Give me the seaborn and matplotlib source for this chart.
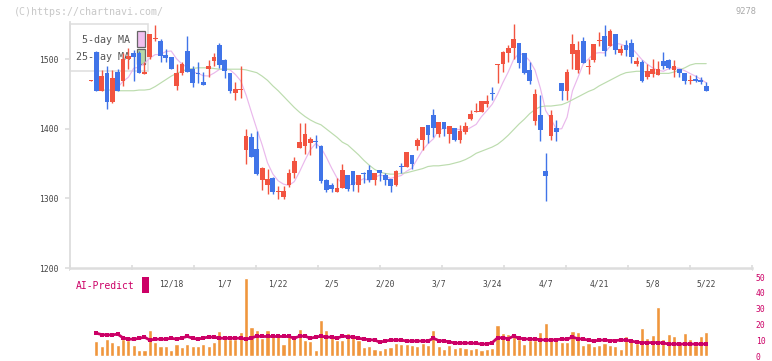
import numpy as np
import pandas as pd
import matplotlib
matplotlib.use("Agg")
import matplotlib.pyplot as plt
import matplotlib.transforms as mtransforms
import seaborn as sns
from matplotlib.patches import Rectangle

nan = np.nan

# daily candles, index 0 = first (partial) day on the chart
opens = [
    1469, 1511, 1455, 1481, 1439, 1482, 1469, 1501, 1509, 1509,
    1479, 1504, 1530, 1527, 1506, 1503, 1462, 1481, 1512, 1486,
    1481, 1468, 1487, 1498, 1521, 1499, 1480, 1452, 1456, 1370,
    1389, 1371, 1326, 1320, 1330, 1310, 1302, 1319, 1337, 1373,
    1376, 1380, 1383, 1375, 1326, 1319, 1310, 1315, 1334, 1339,
    1320, 1337, 1341, 1327, 1341, 1334, 1328, 1320, 1347, 1345,
    1363, 1375, 1384, 1406, 1420, 1393, 1410, 1393, 1402, 1384,
    1396, 1414, 1424, 1425, 1436, 1451, 1492, 1493, 1510, 1516,
    1523, 1509, 1485, 1412, 1420, 1339, 1390, 1402, 1466, 1454,
    1508, 1485, 1527, 1489, 1499, 1526, 1534, 1520, 1537, 1510,
    1521, 1524, 1493, 1497, 1475, 1479, 1477, 1498, 1499, 1485,
    1486, 1481, 1469, 1472, 1470, 1462,
]
highs = [
    1470, 1512, 1485, 1490, 1485, 1486, 1509, 1516, 1514, 1512,
    1497, 1537, 1550, 1530, 1515, 1503, 1494, 1497, 1534, 1490,
    1496, 1482, 1499, 1510, 1524, 1501, 1480, 1468, 1490, 1400,
    1394, 1397, 1346, 1342, 1331, 1318, 1318, 1343, 1359, 1409,
    1409, 1389, 1391, 1377, 1328, 1322, 1329, 1350, 1334, 1339,
    1334, 1338, 1348, 1336, 1341, 1337, 1328, 1341, 1351, 1367,
    1363, 1387, 1403, 1406, 1429, 1410, 1410, 1404, 1402, 1406,
    1410, 1428, 1437, 1440, 1449, 1460, 1493, 1512, 1521, 1551,
    1523, 1510, 1496, 1457, 1449, 1366, 1427, 1413, 1466, 1486,
    1536, 1527, 1533, 1501, 1522, 1539, 1550, 1544, 1537, 1521,
    1528, 1529, 1503, 1499, 1493, 1501, 1498, 1511, 1501, 1499,
    1486, 1481, 1478, 1477, 1475, 1467,
]
lows = [
    1469, 1455, 1454, 1429, 1438, 1455, 1462, 1486, 1469, 1481,
    1479, 1500, 1526, 1497, 1497, 1486, 1456, 1478, 1482, 1461,
    1466, 1463, 1475, 1490, 1488, 1473, 1452, 1441, 1445, 1350,
    1360, 1334, 1312, 1306, 1307, 1299, 1299, 1317, 1330, 1373,
    1364, 1362, 1373, 1323, 1310, 1310, 1310, 1315, 1311, 1311,
    1310, 1323, 1324, 1320, 1325, 1320, 1310, 1318, 1337, 1345,
    1342, 1370, 1370, 1380, 1389, 1389, 1390, 1380, 1383, 1380,
    1393, 1413, 1424, 1425, 1431, 1442, 1466, 1482, 1497, 1500,
    1488, 1479, 1465, 1406, 1382, 1296, 1384, 1383, 1441, 1442,
    1487, 1480, 1495, 1479, 1497, 1519, 1505, 1520, 1508, 1506,
    1505, 1495, 1491, 1467, 1472, 1475, 1477, 1487, 1487, 1475,
    1475, 1465, 1465, 1468, 1465, 1455,
]
closes = [
    1470, 1455, 1476, 1439, 1473, 1455, 1500, 1505, 1504, 1481,
    1482, 1537, 1531, 1505, 1502, 1486, 1481, 1493, 1482, 1466,
    1479, 1463, 1491, 1503, 1492, 1484, 1455, 1458, 1457, 1390,
    1360, 1335, 1344, 1328, 1309, 1311, 1311, 1336, 1354, 1381,
    1393, 1386, 1381, 1325, 1312, 1314, 1315, 1341, 1313, 1320,
    1334, 1335, 1327, 1336, 1336, 1327, 1318, 1339, 1345, 1367,
    1349, 1384, 1403, 1391, 1402, 1410, 1400, 1404, 1384, 1397,
    1404, 1422, 1426, 1440, 1440, 1450, 1493, 1511, 1516, 1529,
    1495, 1481, 1469, 1450, 1399, 1333, 1420, 1396, 1454, 1482,
    1522, 1514, 1495, 1490, 1522, 1528, 1512, 1541, 1514, 1515,
    1513, 1503, 1498, 1469, 1483, 1486, 1486, 1491, 1488, 1490,
    1481, 1469, 1471, 1469, 1468, 1455,
]
ma25 = [
    nan, 1456, 1456, 1456, 1456, 1455, 1455, 1455, 1455, 1456,
    1456, 1457, 1461, 1466, 1471, 1476, 1480, 1483, 1486, 1487,
    1488, 1488, 1488, 1487, 1486, 1486, 1486, 1486, 1486, 1485,
    1483, 1481, 1476, 1470, 1462, 1455, 1447, 1439, 1431, 1424,
    1418, 1413, 1409, 1406, 1400, 1394, 1388, 1381, 1377, 1370,
    1363, 1355, 1348, 1342, 1338, 1336, 1335, 1335, 1336, 1337,
    1339, 1341, 1343, 1346, 1347, 1347, 1348, 1349, 1351, 1353,
    1356, 1360, 1365, 1368, 1371, 1374, 1378, 1384, 1391, 1399,
    1407, 1414, 1422, 1428, 1432, 1433, 1433, 1434, 1435, 1438,
    1442, 1446, 1450, 1454, 1457, 1462, 1466, 1470, 1474, 1478,
    1481, 1482, 1483, 1483, 1482, 1481, 1480, 1480, 1480, 1482,
    1485, 1488, 1492, 1494, 1494, 1494,
]
volume = [
    nan, 9.5, 6.3, 10.7, 8.8, 6.9, 10.7, 10.1, 6.9, 3.8,
    3.8, 16.4, 8.8, 6.3, 6.3, 3.8, 7.6, 5.7, 7.6, 6.3,
    6.3, 7.6, 6.3, 8.8, 15.8, 12.6, 10.7, 10.7, 15.1, 49.8,
    18.3, 16.4, 11.3, 16.4, 14.5, 12.6, 7.6, 13.9, 11.3, 17.0,
    10.1, 9.5, 3.8, 22.7, 16.4, 13.9, 10.1, 10.1, 14.5, 12.6,
    10.1, 5.7, 6.3, 4.4, 4.0, 5.0, 5.7, 8.2, 7.6, 7.6,
    6.9, 6.3, 8.2, 6.9, 16.4, 6.3, 4.4, 6.9, 5.0, 5.7,
    5.0, 4.4, 5.0, 3.8, 4.4, 5.0, 19.5, 14.5, 13.9, 13.9,
    10.7, 7.6, 10.1, 10.1, 15.1, 20.8, 12.0, 10.1, 8.8, 8.8,
    15.8, 15.1, 6.9, 8.2, 6.3, 6.9, 8.2, 6.9, 6.3, 4.4,
    12.6, 9.5, 8.2, 17.6, 11.3, 13.2, 30.9, 10.7, 13.9, 12.6,
    8.8, 14.5, 10.7, 6.9, 12.6, 15.1,
]
ai_predict = [
    nan, 14.5, 13.6, 13.4, 13.4, 13.9, 11.5, 10.7, 10.7, 11.2,
    12.0, 10.1, 10.7, 10.7, 10.7, 11.3, 10.7, 11.5, 12.4, 11.3,
    10.7, 11.5, 12.0, 12.0, 11.3, 11.3, 11.3, 11.3, 11.3, 10.7,
    11.5, 12.6, 12.4, 12.4, 12.4, 12.4, 12.4, 12.4, 11.3, 12.6,
    12.6, 11.3, 12.0, 12.6, 12.0, 12.0, 11.3, 12.6, 12.3, 12.0,
    11.3, 10.7, 10.4, 10.1, 8.8, 9.5, 10.1, 10.1, 10.1, 9.5,
    9.5, 9.5, 9.5, 9.5, 11.3, 9.8, 9.5, 9.0, 8.2, 8.2,
    8.2, 8.2, 8.0, 7.6, 7.6, 8.5, 11.5, 11.6, 11.0, 12.6,
    11.3, 10.9, 10.7, 10.7, 10.4, 10.1, 10.1, 10.4, 10.7, 10.7,
    12.0, 11.0, 10.7, 10.1, 9.5, 10.1, 10.1, 9.8, 9.8, 10.1,
    10.1, 9.5, 8.8, 8.5, 8.5, 8.5, 8.5, 8.2, 7.6, 7.6,
    7.6, 7.6, 7.6, 7.6, 7.6, 7.6,
]
date_labels = ["12/18", "1/7", "1/22", "2/5", "2/20", "3/7",
               "3/24", "4/7", "4/21", "5/8", "5/22"]
date_index = [15, 25, 35, 45, 55, 65, 75, 85, 95, 105, 115]
price_ticks = [1200, 1300, 1400, 1500]
volume_ticks = [0, 10, 20, 30, 40, 50]

W, H = 772, 361
RED = "#f25440"
BLUE = "#4074e8"
ORANGE = "#f0963c"
CRIMSON = "#cc0066"
MA5_COLOR = "#eab8ec"
MA25_COLOR = "#bcdcae"
AXIS = "#dddddd"


def fx(x):
    return x / W


def fy(y):
    return 1 - y / H


sns.set_theme(style="white")
plt.rcParams["font.family"] = ["DejaVu Sans Mono"]

df = pd.DataFrame({"open": opens, "high": highs, "low": lows, "close": closes,
                   "ma25": ma25, "volume": volume, "ai": ai_predict})
df["idx"] = np.arange(len(df))
df["ma5"] = df["close"].rolling(5).mean()

fig = plt.figure(figsize=(7.72, 3.61), dpi=100)
ax = fig.add_axes([fx(70), fy(268), fx(752) - fx(70), fy(22) - fy(268)])
axv = fig.add_axes([fx(70), fy(359), fx(752) - fx(70), fy(270) - fy(359)], sharex=ax)

# candles
up = df["close"] >= df["open"]
colors = np.where(up, RED, BLUE)
ax.vlines(df["idx"], df["low"], df["high"], colors=colors, lw=1.0, zorder=3)
body_bottom = np.minimum(df["open"], df["close"])
body_h = np.maximum((df["close"] - df["open"]).abs(), 1.4)
ax.bar(df["idx"], body_h, bottom=body_bottom, width=0.88, color=colors,
       linewidth=0, zorder=4)

sns.lineplot(data=df, x="idx", y="ma5", ax=ax, color=MA5_COLOR, lw=0.85, zorder=2)
sns.lineplot(data=df, x="idx", y="ma25", ax=ax, color=MA25_COLOR, lw=0.85, zorder=2)

# legend box (under the candles)
ax.add_patch(Rectangle((fx(70), fy(71)), fx(148) - fx(70), fy(24) - fy(71),
                       transform=fig.transFigure, facecolor="white",
                       edgecolor="#e0e0e0", lw=1.2, zorder=0.5, clip_on=False))
ax.text(fx(130), fy(40), "5-day MA", transform=fig.transFigure, ha="right",
        va="center", fontsize=7.2, color="#555555", zorder=0.6)
ax.text(fx(130), fy(57), "25-day MA", transform=fig.transFigure, ha="right",
        va="center", fontsize=7.2, color="#555555", zorder=0.6)
ax.add_patch(Rectangle((fx(137), fy(47)), fx(145) - fx(137), fy(31) - fy(47),
                       transform=fig.transFigure, facecolor="#f0c0f0",
                       edgecolor="#666666", lw=0.9, zorder=0.7))
ax.add_patch(Rectangle((fx(137), fy(64)), fx(145) - fx(137), fy(49) - fy(64),
                       transform=fig.transFigure, facecolor="#b8d8a8",
                       edgecolor="#666666", lw=0.9, zorder=0.7))

xlim = ((70 - 90.95) / 5.35, (752 - 90.95) / 5.35)
ax.set_ylim(1200, 1553.9)
ax.set_yticks(price_ticks)
ax.set_xticks(np.linspace(xlim[0], xlim[1], 12))
ax.tick_params(axis="x", direction="inout", length=4.5, width=1.2, color=AXIS,
               labelbottom=False, bottom=True)
ax.tick_params(axis="y", direction="out", length=3.6, width=1.2, color=AXIS,
               labelsize=5.8, labelcolor="#444444", pad=4.3, left=True)
for side in ["top", "right"]:
    ax.spines[side].set_visible(False)
ax.spines["left"].set_color(AXIS)
ax.spines["left"].set_linewidth(1.3)
ax.spines["bottom"].set_color(AXIS)
ax.spines["bottom"].set_linewidth(1.8)
ax.set_xlabel("")
ax.set_ylabel("")

# volume panel
vol_df = df.dropna(subset=["volume"])
sns.barplot(data=vol_df, x="idx", y="volume", native_scale=True, color=ORANGE,
            saturation=1, width=0.78, errorbar=None, ax=axv, zorder=2)
sns.lineplot(data=df, x="idx", y="ai", ax=axv, color=CRIMSON, lw=2.0,
             marker="s", markersize=2.6, markeredgewidth=0, zorder=3)
axv.set_ylim(-1.9, 54.6)
axv.yaxis.tick_right()
axv.set_yticks(volume_ticks)
axv.tick_params(axis="y", length=0, labelsize=5.8, labelcolor=CRIMSON, pad=2.8,
                right=False, left=False)
axv.tick_params(axis="x", length=0, labelbottom=False, bottom=False)
for side in ["top", "right", "left", "bottom"]:
    axv.spines[side].set_visible(False)
axv.set_xlabel("")
axv.set_ylabel("")

trans = mtransforms.blended_transform_factory(axv.transData, axv.transAxes)
for pos, lab in zip(date_index, date_labels):
    axv.text(pos, (359 - 284) / (359 - 270), lab, transform=trans, ha="center",
             va="center", fontsize=5.8, color="#444444")

ax.set_xlim(*xlim)

fig.text(fx(76), fy(286), "AI-Predict", color=CRIMSON, fontsize=7,
         ha="left", va="center")
fig.add_artist(Rectangle((fx(142), fy(293)), fx(149) - fx(142), fy(277) - fy(293),
                         transform=fig.transFigure, facecolor=CRIMSON,
                         edgecolor="none"))
fig.text(fx(14), fy(12), "(C)https://chartnavi.com/", color="#c8c8c8",
         fontsize=7.2, ha="left", va="center")
fig.text(fx(756), fy(12), "9278", color="#aaaaaa", fontsize=6.3,
         ha="right", va="center")

fig.savefig("out.png", dpi=100)
